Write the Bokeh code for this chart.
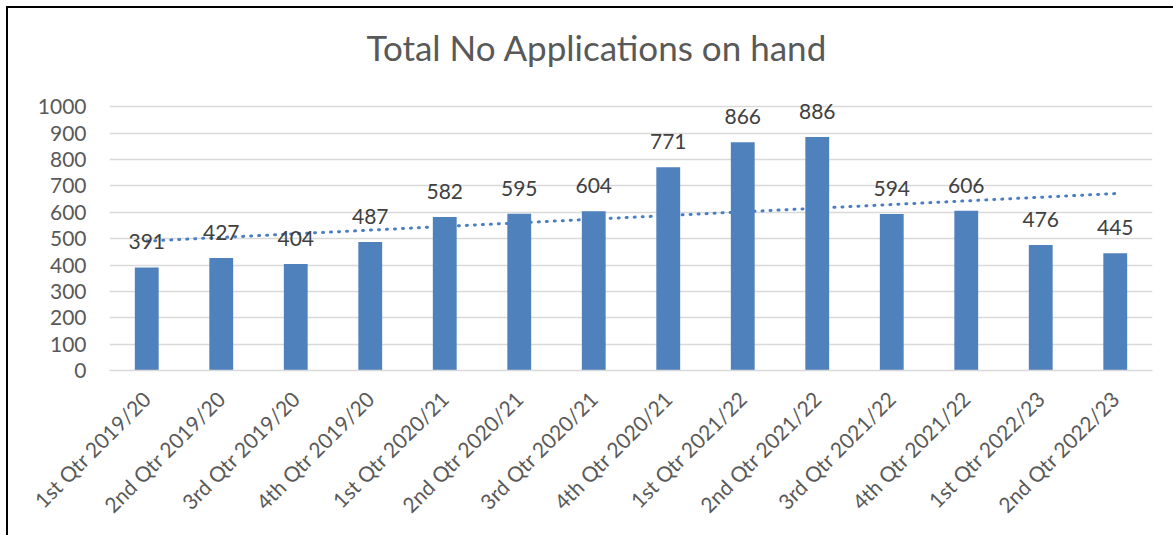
import math
import numpy as np
from bokeh.plotting import figure
from bokeh.models import ColumnDataSource, LabelSet, FactorRange, Range1d, FixedTicker
from bokeh.core.properties import value
from bokeh.embed import file_html
from bokeh.resources import INLINE

categories = [
    "1st Qtr 2019/20", "2nd Qtr 2019/20", "3rd Qtr 2019/20", "4th Qtr 2019/20",
    "1st Qtr 2020/21", "2nd Qtr 2020/21", "3rd Qtr 2020/21", "4th Qtr 2020/21",
    "1st Qtr 2021/22", "2nd Qtr 2021/22", "3rd Qtr 2021/22", "4th Qtr 2021/22",
    "1st Qtr 2022/23", "2nd Qtr 2022/23",
]
values = [391, 427, 404, 487, 582, 595, 604, 771, 866, 886, 594, 606, 476, 445]
y_ticks = [0, 100, 200, 300, 400, 500, 600, 700, 800, 900, 1000]
title_text = "Total No Applications on hand"

# linear trendline (least squares fit, as Excel's linear trendline)
xi = np.arange(len(values))
slope, intercept = np.polyfit(xi, values, 1)
trend = [float(slope * i + intercept) for i in xi]

source = ColumnDataSource(dict(cat=categories, val=values, lab=[str(v) for v in values], trend=trend))

FONT = "Lato"
BAR = "#4F81BD"

# y range extends past the top tick so data labels above tall bars are not clipped
p = figure(
    x_range=FactorRange(*categories), y_range=Range1d(0, 1100),
    width=1173, height=535, output_backend="svg", toolbar_location=None,
    title=title_text,
    min_border_left=109, min_border_right=21, min_border_top=80, min_border_bottom=165,
)
# chart-area frame line (top and left edges)
p.styles = {"box-shadow": "inset 6px 6px 0 0 #ffffff, inset 8px 8px 0 0 #000000"}
p.outline_line_color = None
p.background_fill_color = "white"
p.border_fill_color = None

p.title.text_font = FONT
p.title.text_font_size = "35px"
p.title.text_font_style = "normal"
p.title.text_color = "#595959"
p.title.align = "left"
p.title.offset = 257
p.title.standoff = 25

# trendline behind bars
p.line(x="cat", y="trend", source=source, line_color="#4A7EC4", line_width=3,
       line_dash="1 7", line_cap="round")
p.vbar(x="cat", top="val", width=0.32, source=source, fill_color=BAR, line_color=None)

labels = LabelSet(x="cat", y="val", text="lab", source=source, text_align="center",
                  text_baseline="alphabetic", y_offset=18, text_font=value(FONT),
                  text_font_size="21px", text_color="#404040")
p.add_layout(labels)

p.xgrid.grid_line_color = None
p.ygrid.grid_line_color = "#D9D9D9"
p.ygrid.grid_line_width = 1.5

p.yaxis.ticker = FixedTicker(ticks=y_ticks)
p.yaxis.axis_line_color = None
p.yaxis.major_tick_line_color = None
p.yaxis.minor_tick_line_color = None
p.yaxis.major_label_standoff = 17
p.yaxis.major_label_text_font = FONT
p.yaxis.major_label_text_font_size = "21px"
p.yaxis.major_label_text_color = "#595959"

p.xaxis.axis_line_color = "#D9D9D9"
p.xaxis.axis_line_width = 1.5
p.xaxis.major_tick_line_color = None
p.xaxis.minor_tick_line_color = None
p.xaxis.major_label_orientation = math.pi / 4
p.xaxis.major_label_standoff = 18
p.xaxis.major_label_text_font = FONT
p.xaxis.major_label_text_font_size = "21px"
p.xaxis.major_label_text_color = "#595959"

open("out.html", "w").write(file_html(p, INLINE))
